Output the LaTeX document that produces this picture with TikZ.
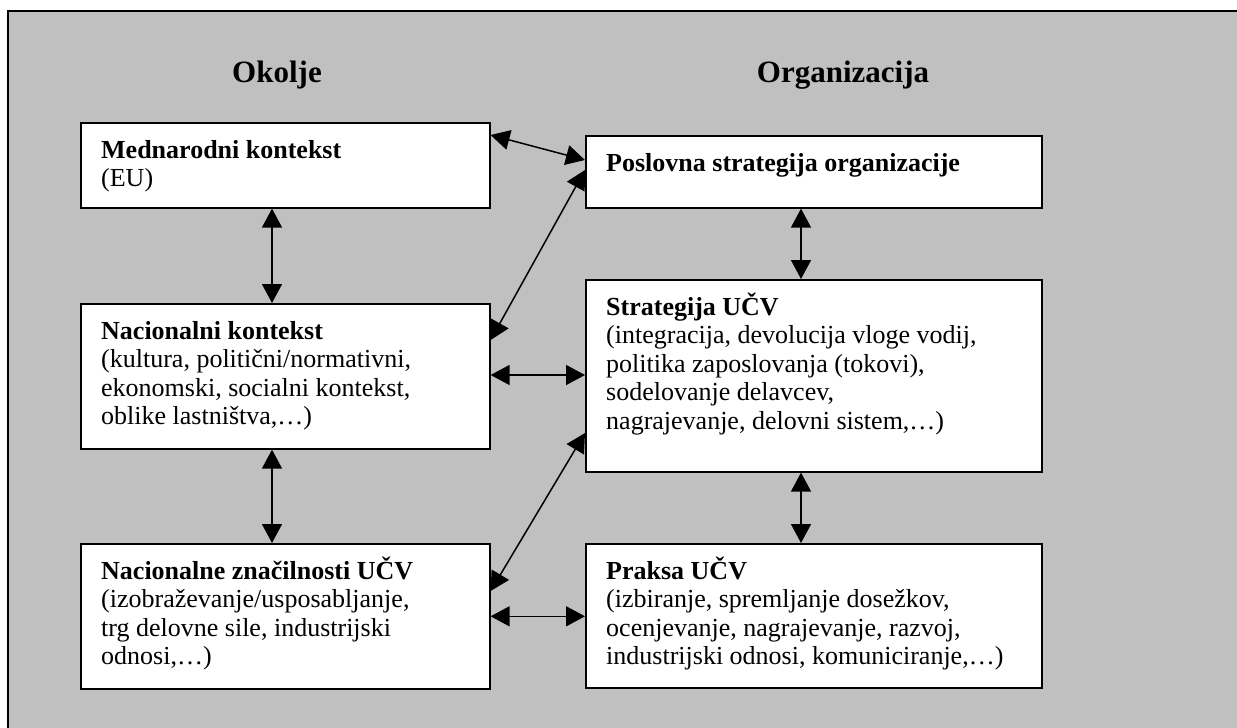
\documentclass[tikz,border=0pt]{standalone}
\usepackage{fontspec}
\setmainfont{Liberation Serif}
\usetikzlibrary{arrows.meta,calc}
\definecolor{panelgray}{HTML}{C0C0C0}
\begin{document}
\begin{tikzpicture}[x=1pt,y=-1pt,
  box/.style={draw=black,line width=1.6pt,fill=white,rectangle,inner sep=0pt,anchor=north west},
  boxtext/.style={anchor=north west,inner sep=0pt,align=left,font=\fontsize{26}{28.5}\selectfont},
  heading/.style={inner sep=0pt,anchor=base,font=\fontsize{31}{34}\selectfont\bfseries},
  link/.style={line width=1.5pt,{Triangle[length=19pt,width=20pt]}-{Triangle[length=19pt,width=20pt]}}]
\useasboundingbox (0,0) rectangle (1237,728);
\fill[white] (0,0) rectangle (1237,728);
% grey panel with its frame on the top and left
\fill[panelgray] (8,11) rectangle (1237,728);
\draw[line width=2.2pt] (8,728) -- (8,11) -- (1237,11);

% column headings
\node[heading] (hokolje) at (277,82) {Okolje};
\node[heading] (horg) at (843,82) {Organizacija};

% boxes
\node[box,minimum width=409pt,minimum height=85pt] (medn) at (80,122) {};
\node[box,minimum width=456pt,minimum height=72pt] (posl) at (585,135) {};
\node[box,minimum width=456pt,minimum height=192pt] (strat) at (585,279) {};
\node[box,minimum width=409pt,minimum height=145pt] (nac) at (80,303) {};
\node[box,minimum width=409pt,minimum height=145pt] (naczn) at (80,543) {};
\node[box,minimum width=456pt,minimum height=144pt] (praksa) at (585,543) {};

% box texts
\newcommand{\firstline}{\rule{0pt}{25pt}}
\node[boxtext] (tmedn) at ([xshift=21pt,yshift=-11pt]medn.north west)
  {\firstline\textbf{Mednarodni kontekst}\\(EU)};
\node[boxtext] (tposl) at ([xshift=21pt,yshift=-11pt]posl.north west)
  {\firstline\textbf{Poslovna strategija organizacije}};
\node[boxtext] (tstrat) at ([xshift=21pt,yshift=-11pt]strat.north west)
  {\firstline\textbf{Strategija UČV}\\(integracija, devolucija vloge vodij,\\politika zaposlovanja (tokovi),\\sodelovanje delavcev,\\nagrajevanje, delovni sistem,…)};
\node[boxtext] (tnac) at ([xshift=21pt,yshift=-11pt]nac.north west)
  {\firstline\textbf{Nacionalni kontekst}\\(kultura, politični/normativni,\\ekonomski, socialni kontekst,\\oblike lastništva,…)};
\node[boxtext] (tnaczn) at ([xshift=21pt,yshift=-11pt]naczn.north west)
  {\firstline\textbf{Nacionalne značilnosti UČV}\\(izobraževanje/usposabljanje,\\trg delovne sile, industrijski\\odnosi,…)};
\node[boxtext] (tpraksa) at ([xshift=21pt,yshift=-11pt]praksa.north west)
  {\firstline\textbf{Praksa UČV}\\(izbiranje, spremljanje dosežkov,\\ocenjevanje, nagrajevanje, razvoj,\\industrijski odnosi, komuniciranje,…)};

% vertical links
\coordinate (lx) at (272,0);
\coordinate (rx) at (801,0);
\draw[link] (lx |- medn.south) -- (lx |- nac.north);
\draw[link] (lx |- nac.south) -- (lx |- naczn.north);
\draw[link] (rx |- posl.south) -- (rx |- strat.north);
\draw[link] (rx |- strat.south) -- (rx |- praksa.north);

% links across the columns
\draw[link] ([yshift=-13pt]medn.north east) -- ([yshift=-25pt]posl.north west);
\draw[link] ([yshift=-37pt]nac.north east) -- ([yshift=-35pt]posl.north west);
\draw[link] ([yshift=-72pt]nac.north east) -- ([yshift=-72pt]nac.north east -| strat.west);
\draw[link] ([yshift=-48pt]naczn.north east) -- ([yshift=-154pt]strat.north west);
\draw[link] (naczn.east) -- (naczn.east -| praksa.west);
\end{tikzpicture}
\end{document}
